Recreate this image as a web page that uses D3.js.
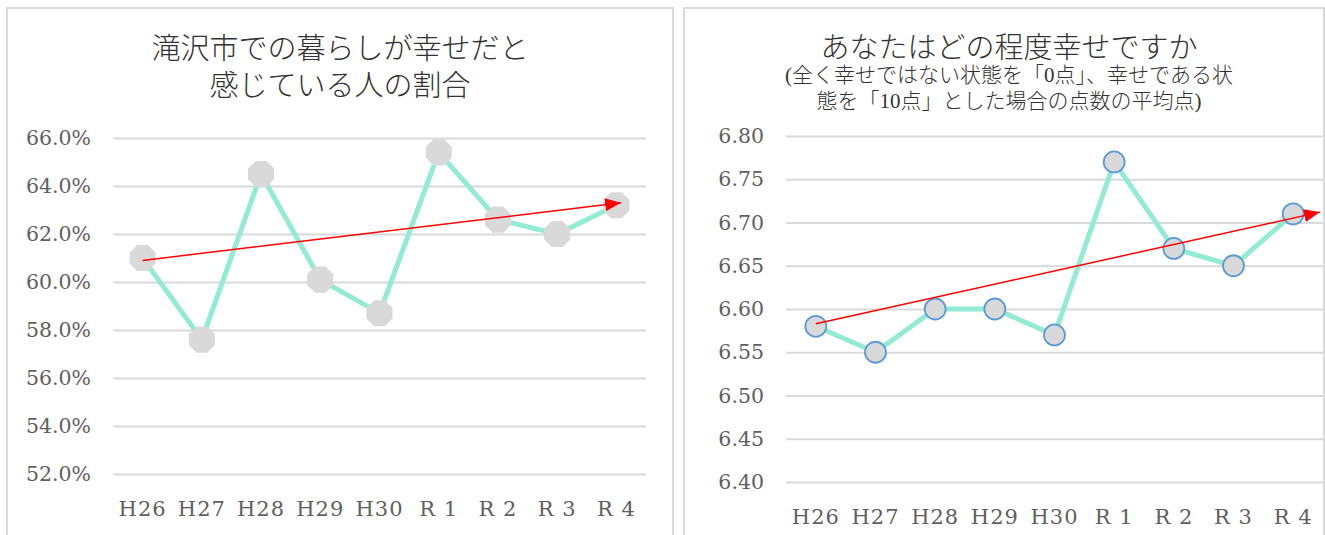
<!DOCTYPE html>
<html>
<head>
<meta charset="utf-8">
<script src="https://cdn.jsdelivr.net/npm/d3@7"></script>
<style>
  body { margin: 0; background: #fff; }
  .tick text { font-family: "DejaVu Serif", "Liberation Serif", serif; fill: #606060; }
  .title { font-family: "Liberation Serif", "Noto Sans CJK JP", serif; fill: #333; font-weight: 300; }
</style>
</head>
<body>
<svg id="chart" width="1325" height="535"></svg>
<script>
// data
var years = ["H26", "H27", "H28", "H29", "H30", "R 1", "R 2", "R 3", "R 4"];
var shareHappy = [61.0, 57.6, 64.5, 60.1, 58.7, 65.4, 62.6, 62.0, 63.2];
var scoreHappy = [6.58, 6.55, 6.60, 6.60, 6.57, 6.77, 6.67, 6.65, 6.71];
var leftTicks = [52, 54, 56, 58, 60, 62, 64, 66];
var rightTicks = [6.40, 6.45, 6.50, 6.55, 6.60, 6.65, 6.70, 6.75, 6.80];
// trend arrows: [index, value] at start and tip
var trendLeft = [[0, 60.9], [8.08, 63.3]];
var trendRight = [[0, 6.583], [8.45, 6.712]];

var svg = d3.select("#chart");

var defs = svg.append("defs");
defs.append("marker")
  .attr("id", "arrow")
  .attr("markerUnits", "userSpaceOnUse")
  .attr("viewBox", "0 0 16 13")
  .attr("refX", 16)
  .attr("refY", 6.5)
  .attr("markerWidth", 16)
  .attr("markerHeight", 13)
  .attr("orient", "auto")
  .append("path")
  .attr("d", "M0,0L16,6.5L0,13Z")
  .attr("fill", "#ff0000");

// panel frames
svg.append("rect").attr("x", 7).attr("y", 8).attr("width", 666).attr("height", 540)
  .attr("fill", "none").attr("stroke", "#d9d9d9").attr("stroke-width", 2);
svg.append("rect").attr("x", 684).attr("y", 8).attr("width", 640).attr("height", 540)
  .attr("fill", "none").attr("stroke", "#d9d9d9").attr("stroke-width", 2);

function drawChart(opt) {
  var g = svg.append("g");

  var x = d3.scaleBand().domain(years).range([opt.x0, opt.x1]);
  var xi = d3.scaleLinear().domain([0, 1]).range([opt.x0 + x.bandwidth() / 2, opt.x0 + x.bandwidth() * 1.5]);
  var y = d3.scaleLinear().domain(d3.extent(opt.ticks)).range([opt.y1, opt.y0]);

  var yAxis = g.append("g")
    .attr("transform", `translate(${opt.x0},0)`)
    .call(d3.axisLeft(y).tickValues(opt.ticks).tickFormat(opt.fmt)
      .tickSize(-(opt.x1 - opt.x0)).tickPadding(22));
  yAxis.select(".domain").remove();
  yAxis.selectAll("line").attr("stroke", "#d9d9d9").attr("stroke-width", 2);
  yAxis.selectAll("text").style("font-size", "20.5px");

  var xAxis = g.append("g")
    .attr("transform", `translate(0,${opt.y1})`)
    .call(d3.axisBottom(x).tickSize(0).tickPadding(27));
  xAxis.select(".domain").remove();
  xAxis.selectAll("text").style("font-size", "21px").style("letter-spacing", "1px").attr("dy", "0.71em");

  var line = d3.line()
    .x((d, i) => x(years[i]) + x.bandwidth() / 2)
    .y(d => y(d));

  g.append("path")
    .datum(opt.values)
    .attr("d", line)
    .attr("fill", "none")
    .attr("stroke", "#93ebd3")
    .attr("stroke-width", 5)
    .attr("stroke-linejoin", "round");

  var pts = g.selectAll(".pt")
    .data(opt.values)
    .enter();

  if (opt.marker == "octagon") {
    var r = 14.1;
    var oct = d3.range(8).map(k => {
      var a = Math.PI / 8 + k * Math.PI / 4;
      return [r * Math.cos(a), r * Math.sin(a)];
    });
    pts.append("path")
      .attr("transform", (d, i) => `translate(${x(years[i]) + x.bandwidth() / 2},${y(d)})`)
      .attr("d", "M" + oct.join("L") + "Z")
      .attr("fill", "#d9d9d9");
  } else {
    pts.append("circle")
      .attr("cx", (d, i) => x(years[i]) + x.bandwidth() / 2)
      .attr("cy", d => y(d))
      .attr("r", 10.5)
      .attr("fill", "#d9d9d9")
      .attr("stroke", "#5b9bd5")
      .attr("stroke-width", 1.8);
  }

  g.append("line")
    .attr("x1", xi(opt.trend[0][0]))
    .attr("y1", y(opt.trend[0][1]))
    .attr("x2", xi(opt.trend[1][0]))
    .attr("y2", y(opt.trend[1][1]))
    .attr("stroke", "#ff0000")
    .attr("stroke-width", 1.5)
    .attr("marker-end", "url(#arrow)");

  opt.title.forEach(function(t) {
    svg.append("text")
      .attr("class", "title")
      .attr("x", opt.cx)
      .attr("y", t.y)
      .attr("text-anchor", "middle")
      .attr("dominant-baseline", "central")
      .style("font-size", t.size + "px")
      .text(t.text);
  });
}

drawChart({
  x0: 113, x1: 646, y0: 138, y1: 474,
  ticks: leftTicks,
  fmt: d => d.toFixed(1) + "%",
  values: shareHappy,
  marker: "octagon",
  trend: trendLeft,
  cx: 340,
  title: [
    { text: "滝沢市での暮らしが幸せだと", y: 49, size: 29 },
    { text: "感じている人の割合", y: 86, size: 29 }
  ]
});

drawChart({
  x0: 786, x1: 1323, y0: 136, y1: 482,
  ticks: rightTicks,
  fmt: d => d.toFixed(2),
  values: scoreHappy,
  marker: "circle",
  trend: trendRight,
  cx: 1009,
  title: [
    { text: "あなたはどの程度幸せですか", y: 48, size: 29 },
    { text: "(全く幸せではない状態を「0点」、幸せである状", y: 75, size: 21 },
    { text: "態を「10点」とした場合の点数の平均点)", y: 101, size: 21 }
  ]
});
</script>
</body>
</html>
